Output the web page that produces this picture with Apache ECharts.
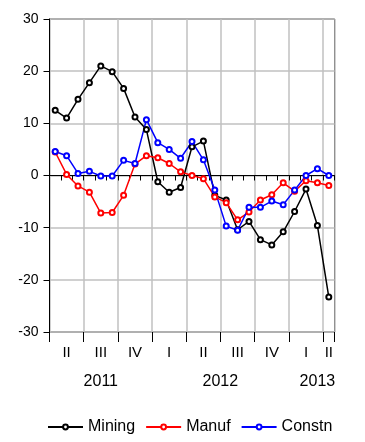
<!DOCTYPE html>
<html>
<head>
<meta charset="utf-8">
<script src="https://cdn.jsdelivr.net/npm/echarts@6/dist/echarts.min.js"></script>
<style>
html,body{margin:0;padding:0;background:#fff;}
#chart{width:365px;height:442px;}
</style>
</head>
<body>
<div id="chart"></div>
<script>
// Monthly categories, April 2011 .. April 2013
const months = ['2011-04','2011-05','2011-06','2011-07','2011-08','2011-09','2011-10','2011-11','2011-12',
  '2012-01','2012-02','2012-03','2012-04','2012-05','2012-06','2012-07','2012-08','2012-09','2012-10','2012-11','2012-12',
  '2013-01','2013-02','2013-03','2013-04'];
const mining = [12.5, 11.0, 14.6, 17.8, 21.0, 19.9, 16.7, 11.2, 8.8, -1.2, -3.2, -2.3, 5.5, 6.6, -3.8, -4.7, -10.4, -8.8, -12.3, -13.3, -10.8, -6.9, -2.6, -9.6, -23.3];
const manuf = [4.5, 0.2, -2.0, -3.2, -7.2, -7.1, -3.8, 2.2, 3.8, 3.4, 2.3, 0.7, 0.0, -0.6, -4.1, -5.2, -8.5, -7.0, -4.7, -3.7, -1.4, -3.0, -1.0, -1.4, -1.9];
const constn = [4.6, 3.8, 0.4, 0.8, -0.1, -0.1, 2.9, 2.3, 10.7, 6.3, 5.0, 3.3, 6.5, 3.0, -2.8, -9.7, -10.5, -6.1, -6.1, -4.9, -5.6, -2.8, 0.0, 1.3, 0.0];
const quarterNames = ['I','II','III','IV'];
const yearLabels = {'2011': 4, '2012': 14, '2013': 23};

function quarterOf(m){ return Math.floor((parseInt(m.slice(5),10)-1)/3); }
function isQuarterStart(i){ return (parseInt(months[i].slice(5),10)-1) % 3 === 0; }

const chart = echarts.init(document.getElementById('chart'), null, {renderer:'canvas'});
const FONT = 'Liberation Sans, Arial, sans-serif';
const gridColor = '#c0c0c0';

const option = {
  backgroundColor: '#fff',
  animation: false,
  grid: {left: 49.5, right: 30.5, top: 19, bottom: 110, show: true, borderColor: '#000', borderWidth: 1, backgroundColor: 'transparent'},
  legend: {
    left: 42, top: 414,
    itemWidth: 35, itemHeight: 6, itemGap: 10,
    textStyle: {fontFamily: FONT, fontSize: 16, color: '#000'},
    data: ['Mining','Manuf','Constn']
  },
  xAxis: [
    {
      type: 'category', data: months, boundaryGap: true, position: 'bottom',
      axisLine: {show: true, lineStyle: {color: '#000', width: 1}},
      axisTick: {show: true, interval: 0, length: 5, lineStyle: {color: '#000'}},
      splitLine: {show: true, interval: function(i){ return isQuarterStart(i); }, lineStyle: {color: gridColor, width: 1.5}},
      axisLabel: {
        interval: 0, margin: 13, fontFamily: FONT, fontSize: 15, color: '#000',
        formatter: function(v, i){
          const mo = parseInt(v.slice(5),10);
          if ((mo-1) % 3 === 1 || i === months.length-1) return quarterNames[quarterOf(v)];
          return '';
        }
      }
    },
    {
      type: 'category', data: months, boundaryGap: true, position: 'bottom', offset: 0,
      axisLine: {show: false},
      axisTick: {show: true, interval: function(i){ return isQuarterStart(i); }, length: 10, lineStyle: {color: '#000'}},
      splitLine: {show: false},
      axisLabel: {
        interval: 0, margin: 42, fontFamily: FONT, fontSize: 16, color: '#000',
        formatter: function(v, i){
          for (const y in yearLabels) {
            if (yearLabels[y] === i) return y === '2012' ? '{s|' + y + '}' : y;
          }
          return '';
        },
        rich: {s: {fontFamily: FONT, fontSize: 16, color: '#000', padding: [0,0,0,11]}}
      }
    }
  ],
  yAxis: {
    type: 'value', min: -30, max: 30, interval: 10,
    axisLine: {show: true, lineStyle: {color: '#000'}},
    axisTick: {show: true, length: 6, lineStyle: {color: '#000'}},
    splitLine: {show: true, lineStyle: {color: gridColor, width: 1.5}},
    axisLabel: {margin: 11, fontFamily: FONT, fontSize: 14, color: '#000'}
  },
  series: [
    {name: 'Mining', type: 'line', data: mining, color: '#000000', symbol: 'emptyCircle', symbolSize: 5,
      lineStyle: {width: 1.5, color: '#000'}, itemStyle: {color: '#000', borderWidth: 1.2}},
    {name: 'Manuf', type: 'line', data: manuf, color: '#ff0000', symbol: 'emptyCircle', symbolSize: 5,
      lineStyle: {width: 1.5, color: '#ff0000'}, itemStyle: {color: '#ff0000', borderWidth: 1.2}},
    {name: 'Constn', type: 'line', data: constn, color: '#0000ff', symbol: 'emptyCircle', symbolSize: 5,
      lineStyle: {width: 1.5, color: '#0000ff'}, itemStyle: {color: '#0000ff', borderWidth: 1.2}}
  ]
};
chart.setOption(option);
</script>
</body>
</html>
